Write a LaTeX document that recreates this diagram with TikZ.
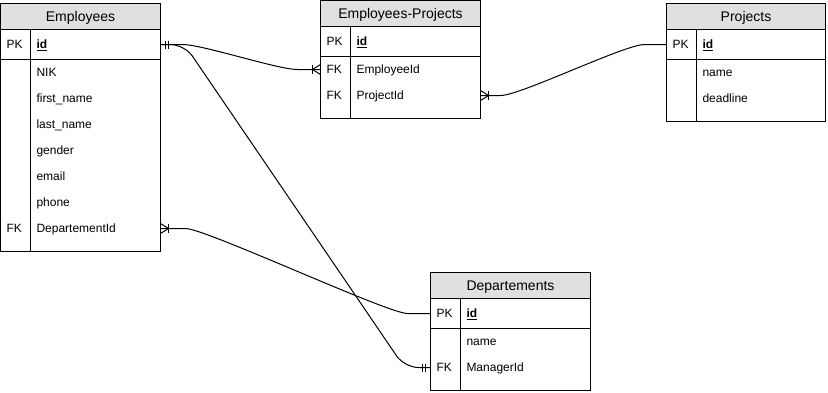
\documentclass[tikz,border=0pt]{standalone}
\usepackage{fontspec}
\setmainfont{Liberation Sans}
\definecolor{hdrfill}{HTML}{E0E0E0}

% one table row: #1 name, #2 node above, #3 height, #4 key text, #5 field text
\newcommand{\erRow}[5]{%
  \node[rowbox, minimum width=\tw, minimum height=#3] (#1) at (#2.south west) {};
  \node[keytxt] at ([xshift=6]#1.west) {#4};
  \node[fldtxt] at ([xshift=36]#1.west) {#5};
}
% table frame, title bar, key column divider and the line under the key row
\newcommand{\erFrame}[5]{% #1 name, #2 position, #3 width, #4 height, #5 title
  \def\tw{#3}%
  \node[frame, minimum width=#3, minimum height=#4] (#1) at (#2) {};
  \node[hdr, minimum width=#3] (#1-h) at (#1.north west) {#5};
  \draw[border] ([xshift=30]#1-h.south west) -- ([xshift=30]#1.south west);
}
\newcommand{\pk}{\underline{\textbf{id}}}

\begin{document}
\begin{tikzpicture}[x=1pt, y=-1pt,
  every node/.style={inner sep=0pt, outer sep=0pt},
  border/.style={line width=1pt, draw=black},
  frame/.style={rectangle, draw=black, line width=1pt, anchor=north west},
  hdr/.style={rectangle, draw=black, line width=1pt, fill=hdrfill, anchor=north west,
    minimum height=26, text height=10pt, text depth=0pt, font=\fontsize{14}{16}\selectfont},
  rowbox/.style={rectangle, anchor=north west},
  keytxt/.style={anchor=west, text height=8.6pt, text depth=0pt, font=\fontsize{12}{14}\selectfont},
  fldtxt/.style={keytxt},
  rel/.style={line width=1pt, draw=black},
]
\useasboundingbox (0,0) rectangle (828,392);

% ---------------- Employees ----------------
\erFrame{emp}{0.5,3.5}{160}{248}{Employees}
\erRow{emp-id}{emp-h}{30}{PK}{\pk}
\erRow{emp-nik}{emp-id}{26}{}{NIK}
\erRow{emp-fn}{emp-nik}{26}{}{first\_name}
\erRow{emp-ln}{emp-fn}{26}{}{last\_name}
\erRow{emp-gen}{emp-ln}{26}{}{gender}
\erRow{emp-mail}{emp-gen}{26}{}{email}
\erRow{emp-ph}{emp-mail}{26}{}{phone}
\erRow{emp-dept}{emp-ph}{26}{FK}{DepartementId}
\draw[border] (emp-id.south west) -- (emp-id.south east);

% ---------------- Employees-Projects ----------------
\erFrame{ep}{320.5,0.5}{160}{118}{Employees-Projects}
\erRow{ep-id}{ep-h}{30}{PK}{\pk}
\erRow{ep-emp}{ep-id}{26}{FK}{EmployeeId}
\erRow{ep-proj}{ep-emp}{26}{FK}{ProjectId}
\draw[border] (ep-id.south west) -- (ep-id.south east);

% ---------------- Projects ----------------
\erFrame{proj}{666.5,3.5}{159}{118}{Projects}
\erRow{proj-id}{proj-h}{30}{PK}{\pk}
\erRow{proj-name}{proj-id}{26}{}{name}
\erRow{proj-dl}{proj-name}{26}{}{deadline}
\draw[border] (proj-id.south west) -- (proj-id.south east);

% ---------------- Departements ----------------
\erFrame{dep}{430.5,272.5}{160}{118}{Departements}
\erRow{dep-id}{dep-h}{30}{PK}{\pk}
\erRow{dep-name}{dep-id}{26}{}{name}
\erRow{dep-mgr}{dep-name}{26}{FK}{ManagerId}
\draw[border] (dep-id.south west) -- (dep-id.south east);

% ---------------- relationships ----------------
\draw[rel] (emp-id.east) -- ++(22,0) .. controls +(20,0) and +(-20,0) .. ([xshift=-23]ep-emp.west) -- (ep-emp.west);
\draw[rel, rounded corners=14pt] (emp-id.east) -- ++(24,0) -- ([xshift=-26]dep-mgr.west) -- (dep-mgr.west);
\draw[rel] (emp-dept.east) -- ++(25,0) .. controls +(20,0) and +(-20,0) .. ([xshift=-23]dep-id.west) -- (dep-id.west);
\draw[rel] (ep-proj.east) -- ++(20,0) .. controls +(20,0) and +(-20,0) .. ([xshift=-22]proj-id.west) -- (proj-id.west);

% mandatory-one marks
\foreach \d in {4.5,7.5}
  \draw[rel] ([xshift=\d, yshift=4]emp-id.east) -- ([xshift=\d, yshift=-4]emp-id.east);
\foreach \d in {5.5,8.5}
  \draw[rel] ([xshift=-\d, yshift=4]dep-mgr.west) -- ([xshift=-\d, yshift=-4]dep-mgr.west);

% one-to-many marks (bar plus crow's foot)
\draw[rel] ([xshift=-8, yshift=4.5]ep-emp.west) -- ([xshift=-8, yshift=-4.5]ep-emp.west);
\draw[rel] ([yshift=5]ep-emp.west) -- ([xshift=-8]ep-emp.west) -- ([yshift=-5]ep-emp.west);
\draw[rel] ([xshift=8, yshift=4.5]emp-dept.east) -- ([xshift=8, yshift=-4.5]emp-dept.east);
\draw[rel] ([yshift=5]emp-dept.east) -- ([xshift=8]emp-dept.east) -- ([yshift=-5]emp-dept.east);
\draw[rel] ([xshift=8, yshift=4.5]ep-proj.east) -- ([xshift=8, yshift=-4.5]ep-proj.east);
\draw[rel] ([yshift=5]ep-proj.east) -- ([xshift=8]ep-proj.east) -- ([yshift=-5]ep-proj.east);
\end{tikzpicture}
\end{document}
